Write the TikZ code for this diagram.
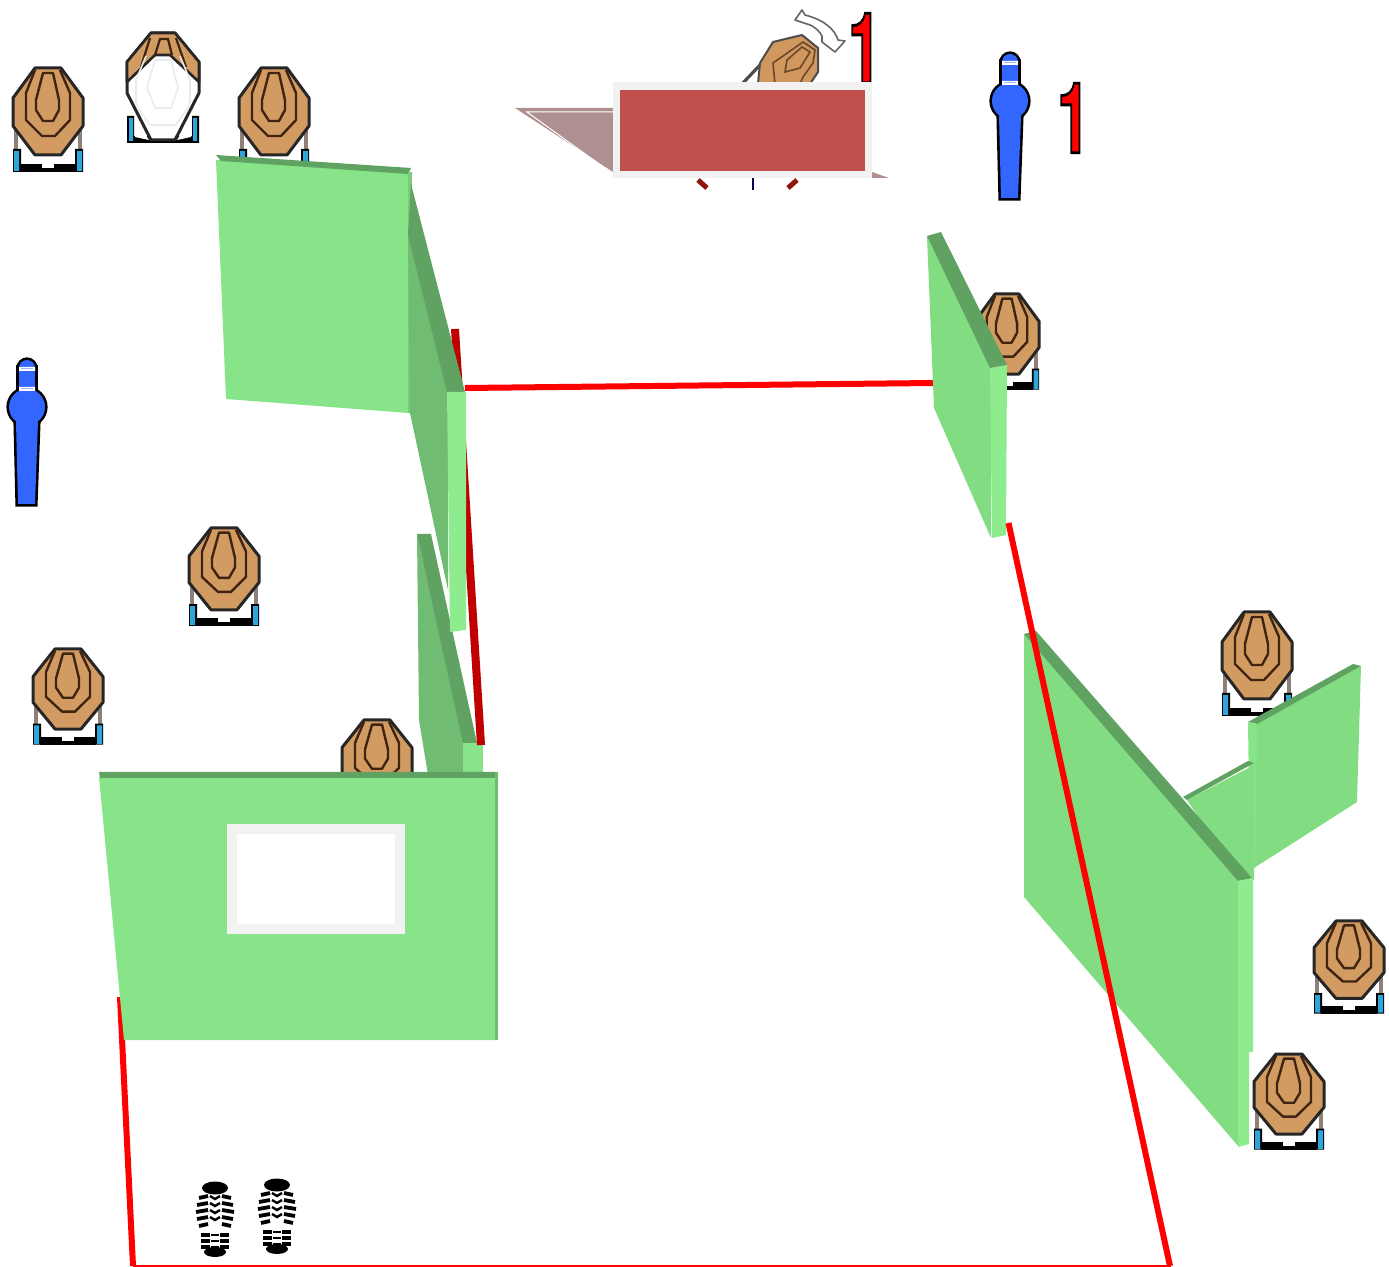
\documentclass[tikz,border=0pt]{standalone}
\usepackage{fontspec}
\setmainfont{Liberation Sans}
\newfontfamily\numfont[BoldFeatures={FakeBold=3}]{TeX Gyre Heros}
\definecolor{wallface}{HTML}{88E488}
\definecolor{wallface2}{HTML}{82DC82}
\definecolor{wallfront}{HTML}{8EEC8E}
\definecolor{walltop}{HTML}{5FA262}
\definecolor{wallside}{HTML}{70BC72}
\definecolor{tan1}{HTML}{D29B62}
\definecolor{ring}{HTML}{3F2412}
\definecolor{legblue}{HTML}{2EA6DA}
\definecolor{leggrey}{HTML}{8E8078}
\definecolor{manblue}{HTML}{3366FF}
\definecolor{signred}{HTML}{C0504D}
\definecolor{signframe}{HTML}{F2F2F2}
\definecolor{signshadow}{HTML}{AF9090}
\definecolor{lineRed}{HTML}{FF0000}
\definecolor{lineDark}{HTML}{C00000}
\newcommand{\outlinedone}{\scalebox{0.6}[1]{\fontsize{49pt}{49pt}\numfont\bfseries\color{red}\special{pdf:code 0 0 0 RG}1\special{pdf:code 1 0 0 RG}}}
\tikzset{
  tgt/.pic={
    \draw[leggrey,line width=2pt] (-32,55)--(-32,84) (32,55)--(32,84);
    \fill[black] (-35,81) rectangle (-27,104) (27,81) rectangle (35,104);
    \fill[legblue] (-34,83) rectangle (-29,103) (29,83) rectangle (34,103);
    \fill[black] (-28,96) rectangle (28,104);
    \fill[white] (-6,96) rectangle (6,100);
    \filldraw[fill=tan1,draw=black!85,line width=1.5pt,line join=round]
      (-13,0)--(13,0)--(35,30)--(35,58)--(13,87)--(-13,87)--(-35,58)--(-35,30)--cycle;
    \draw[ring,line width=1.2pt,line join=round]
      (-13,2)--(-22,25)--(-22,52)--(-6,68)--(7,68)--(22,52)--(22,25)--(12,2);
    \draw[ring,line width=1.2pt,line join=round]
      (-5,5)--(5,5)--(11,32)--(11,42)--(5,53)--(-5,53)--(-12,42)--(-12,32)--cycle;
  },
  boot/.pic={
    \fill[black] (0,8) ellipse [x radius=13,y radius=6.5];
    \foreach \yy/\dx in {17/3,24/1,31/0,38/1,45/3}{
      \draw[black,line width=1.9pt] (-19+\dx,\yy+1)--(-7,\yy-1);
      \draw[black,line width=1.9pt] (19-\dx,\yy+1)--(7,\yy-1);
    }
    \foreach \yy in {19,26,33,40}{
      \draw[black,line width=1.2pt] (-5,\yy-3)--(0,\yy)--(5,\yy-3);
    }
    \foreach \yy in {55,61,67}{
      \draw[black,line width=1.7pt] (-14,\yy)--(-5,\yy);
      \draw[black,line width=1.7pt] (5,\yy)--(14,\yy);
      \draw[black,line width=.7pt] (-4,\yy)--(4,\yy);
    }
    \fill[black] (0,72) ellipse [x radius=11,y radius=5];
  },
  man/.pic={
    \begin{scope}[black,line width=2.6pt]
      \fill[draw] (0,0) circle [radius=18];
      \fill[draw] (-8,-39) rectangle (8,0);
      \fill[draw] (0,-39) ellipse [x radius=8,y radius=8];
      \fill[draw] (-11,14)--(11,14)--(8,97)--(-9,97)--cycle;
    \end{scope}
    \fill[manblue] (0,0) circle [radius=18];
    \fill[manblue] (-8,-39) rectangle (8,0);
    \fill[manblue] (0,-39) ellipse [x radius=8,y radius=8];
    \fill[manblue] (-11,14)--(11,14)--(8,97)--(-9,97)--cycle;
    \fill[white] (-8,-40) rectangle (8,-36) (-8,-20) rectangle (8,-16);
    \draw[manblue!45!white,line width=.5pt] (-6,-38)--(6,-38) (-6,-18)--(6,-18);
  }
}
\begin{document}
\begin{tikzpicture}[x=0.5pt,y=-0.5pt,line cap=butt]
\useasboundingbox (0,0) rectangle (1389,1267);

% targets
\pic at (48,68) {tgt};
\pic at (274,68) {tgt};
\pic[yscale=.94] at (224,528) {tgt};
\pic[yscale=.92] at (68,649) {tgt};
\pic[yscale=.92] at (377,720) {tgt};
\pic at (1257,612) {tgt};
\pic[yscale=.89] at (1349,921) {tgt};
\pic[yscale=.92] at (1289,1054) {tgt};
\pic[xscale=.92,yscale=.92] at (1007,294) {tgt};

% white target
\fill[black] (128,136) rectangle (198,143);
\fill[black] (127,116) rectangle (134,143) (192,116) rectangle (199,143);
\fill[legblue] (129,118) rectangle (133,141) (193,118) rectangle (197,141);
\fill[white] (135,118)--(149,140)--(135,137)--cycle (191,118)--(177,140)--(191,137)--cycle;
\filldraw[fill=white,draw=black!85,line width=1.5pt,line join=round]
  (151,33)--(175,33)--(199,62)--(199,93)--(175,140)--(151,140)--(127,93)--(127,62)--cycle;
\filldraw[fill=tan1,draw=black!85,line width=1.3pt,line join=round]
  (151,33)--(175,33)--(199,62)--(199,82)--(170,55)--(155,55)--(127,82)--(127,62)--cycle;
\draw[ring,line width=1.1pt] (155,55)--(160,39)--(168,39)--(172,55) (141,67)--(150,38) (186,67)--(176,38);
\draw[black!8,line width=.8pt] (155,60)--(171,60)--(178,88)--(171,108)--(155,108)--(147,88)--cycle
  (146,56)--(136,80)--(136,105)--(150,125)--(176,125)--(190,105)--(190,80)--(180,56);

% rotated target and arrow
\draw[gray!60!black,line width=1.6pt] (760,65)--(742,84);
\filldraw[fill=tan1!90!brown,draw=black!70,line width=1pt,line join=round]
  (773,42)--(802,35)--(818,48)--(818,72)--(810,84)--(758,84)--(760,63)--cycle;
\draw[ring!70!tan1,line width=.8pt] (775,84)--(773,63)--(803,42)--(815,50)--(813,63)--(803,77)--(800,84);
\draw[ring!70!tan1,line width=.8pt] (787,60)--(802,47)--(810,52)--(800,68)--(785,72)--cycle;
\filldraw[fill=white,draw=gray!80!black,line width=.8pt,line join=round]
  (802,10)--(795,20)--(807,24) .. controls (815,26) and (820,32) .. (822,36)
  --(822,42)--(835,52)--(845,41)--(838,40)
  .. controls (835,30) and (825,20) .. (805,15)--cycle;
\draw[ring!60!red,line width=2.5pt] (698,180)--(707,188) (797,180)--(788,188);
\draw[black!40!blue!50!black,line width=1pt] (753,178)--(753,190);

% number on sign
\node[inner sep=0pt] (numA) at (864.5,48) {\outlinedone};
% sign
\path[fill=signshadow] (515,108)--(613,108)--(613,178)--(889,178)--(872,172)--(613,172)--cycle;
\draw[white,line width=.5pt] (613,112)--(527,112)--(613,174);
\fill[signframe] (613,82) rectangle (872,178);
\fill[signred] (620,90) rectangle (865,171);

\node[inner sep=0pt] (numB) at (1073.5,118) {\outlinedone};

% men
\pic at (1010,101) {man};
\pic at (27,407) {man};

% red lines under the walls
\draw[lineRed,line width=3pt] (465,388)--(934,383);
\draw[lineRed,line width=3pt] (120,997)--(133,1266);
\draw[lineRed,line width=1.3pt] (133,1266)--(1171,1266);

% wall A
\fill[wallface] (216,160)--(410,172)--(408,413)--(226,399)--cycle;
\fill[walltop] (216,155)--(411,168)--(408,174)--(221,161)--cycle;
\fill[wallside!60!wallface] (408,172) rectangle (412,413);

% wall C
\fill[wallside] (417,534)--(464,743)--(464,775)--(428,775)--(419,720)--cycle;
\fill[walltop] (417,534)--(431,534)--(477,743)--(463,743)--cycle;
\fill[wallface] (463,743) rectangle (483,775);
\draw[lineDark,line width=4pt] (455,329)--(481,745);
% wall B
\fill[wallside] (411,184)--(448,392)--(448,590)--(410,413)--(408,240)--cycle;
\fill[walltop] (411,184)--(465,392)--(447,392)--(408,235)--cycle;
\fill[wallfront] (447,392)--(466,392)--(466,630)--(450,632)--cycle;

% wall D
\fill[wallface] (99,777)--(498,777)--(498,1040)--(124,1040)--cycle;
\fill[walltop] (99,772)--(498,772)--(498,778)--(100,778)--cycle;
\fill[wallside] (495,772) rectangle (498,1040);
\fill[signframe] (227,824) rectangle (405,934);
\fill[white] (237,834) rectangle (395,924);

% wall E
\fill[wallface2] (927,236)--(991,368)--(991,538)--(934,408)--cycle;
\fill[walltop] (927,236)--(941,232)--(1007,365)--(990,368)--cycle;
\fill[wallfront] (990,368)--(1007,365)--(1006,535)--(992,538)--cycle;

% walls H, G, F
\fill[wallface2] (1256,724)--(1361,666)--(1357,802)--(1254,868)--cycle;
\fill[walltop] (1248,722)--(1353,664)--(1361,666)--(1257,724)--cycle;
\fill[wallface] (1248,722)--(1257,724)--(1255,868)--(1250,866)--cycle;
\fill[wallface2] (1187,800)--(1254,765)--(1254,880)--(1240,880)--cycle;
\fill[walltop] (1183,797)--(1248,761)--(1254,763)--(1187,800)--cycle;
\fill[wallface2] (1024,634)--(1239,881)--(1239,1147)--(1024,897)--cycle;
\fill[walltop] (1036,631)--(1252,878)--(1238,881)--(1024,634)--cycle;
\fill[wallfront] (1238,881)--(1253,878)--(1253,1052)--(1249,1052)--(1249,1144)--(1238,1147)--cycle;
\draw[lineRed,line width=3pt] (1008.5,523)--(1170,1266);

% boots
\pic at (215,1180) {boot};
\pic at (277,1177) {boot};
\end{tikzpicture}
\end{document}
